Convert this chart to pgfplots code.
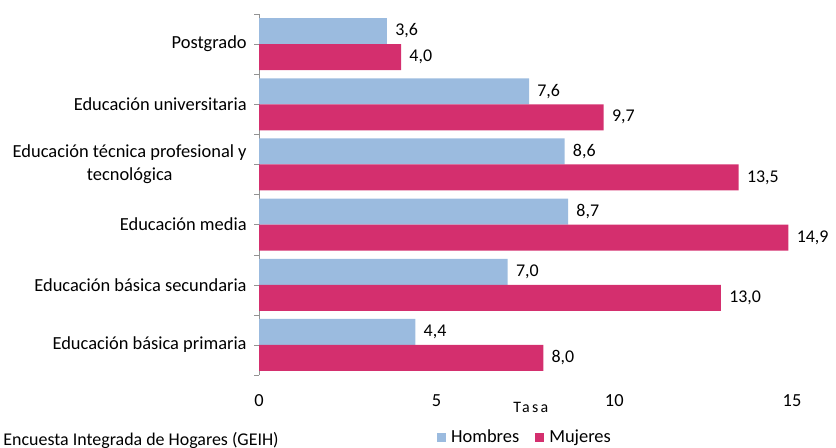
\documentclass[border=0pt]{standalone}
\usepackage{fontspec}
\setmainfont{Carlito}
\usepackage{pgfplots}
\pgfplotsset{compat=1.18}
\definecolor{hombres}{HTML}{9BBBDF}
\definecolor{mujeres}{HTML}{D42F6E}
\begin{document}
\fontsize{18.5}{23}\selectfont
\begin{tikzpicture}
\path[use as bounding box] (0,0) rectangle (836bp,448bp);
\begin{axis}[
    at={(259bp,73bp)}, anchor=south west,
    scale only axis, width=533bp, height=361bp,
    xbar, bar width=26bp,
    xmin=0, xmax=15, ymin=-0.5, ymax=5.5,
    xtick={0,5,10,15},
    ytick={0,...,5},
    minor ytick={-0.5,0.5,...,5.5},
    yticklabels={Educación básica primaria, Educación básica secundaria, Educación media,
        {Educación técnica profesional y\\tecnológica}, Educación universitaria, Postgrado},
    yticklabel style={align=center, xshift=-1bp},
    xticklabel style={yshift=-8bp},
    /pgf/number format/assume math mode=true,
    axis lines*=left,
    x axis line style={draw=none},
    y axis line style={draw=gray!85},
    xtick style={draw=none},
    ytick style={draw=gray!85},
    tick align=outside,
    major tick length=5bp, minor tick length=5bp,
    nodes near coords,
    nodes near coords style={anchor=west, xshift=2bp, font=\fontsize{18}{21}\selectfont,
        /pgf/number format/.cd, fixed, fixed zerofill, precision=1, use comma, assume math mode=true},
    xlabel={\addfontfeature{LetterSpace=14}\fontsize{16}{19}\selectfont Tasa},
    xlabel style={at={(axis description cs:0.51,-0.09)}, anchor=center},
    legend style={at={(0.499,-0.172)}, anchor=center, legend columns=2, draw=none,
        /tikz/every even column/.append style={column sep=14bp}},
    legend image code/.code={\fill[#1] (0bp,-4.5bp) rectangle (9bp,4.5bp); \path (12bp,0bp);},
]
\addplot[fill=hombres, draw=none, bar shift=13bp] coordinates {
    (4.4,0) (7.0,1) (8.7,2) (8.6,3) (7.6,4) (3.6,5)};
\addplot[fill=mujeres, draw=none, bar shift=-13bp] coordinates {
    (8.0,0) (13.0,1) (14.9,2) (13.5,3) (9.7,4) (4.0,5)};
\legend{Hombres, Mujeres}
\end{axis}
\node[anchor=base east, font=\fontsize{18}{22}\selectfont] at (285bp,3bp) {Fuente: DANE, Gran Encuesta Integrada de Hogares (GEIH)};
\end{tikzpicture}
\end{document}
